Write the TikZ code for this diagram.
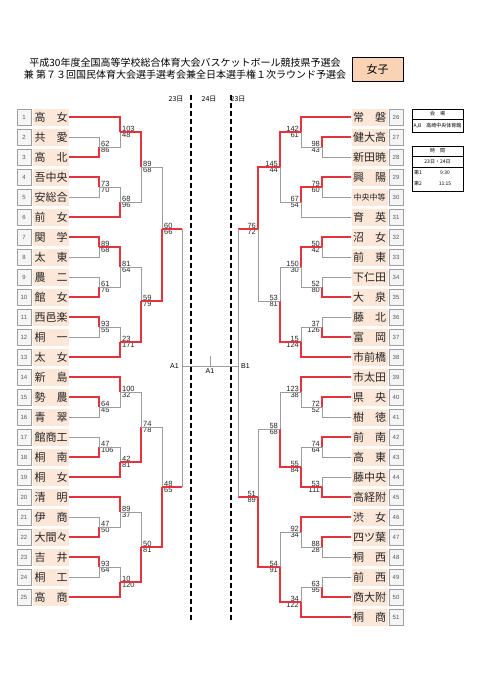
\documentclass[tikz,border=0pt]{standalone}
\usepackage{fontspec}
\setmainfont{Noto Sans CJK JP}
\newfontfamily\numfont{Liberation Sans}
\definecolor{wred}{HTML}{E5323C}
\definecolor{lgray}{HTML}{9C9C9C}
\definecolor{namebg}{HTML}{FCE7D9}
\definecolor{girlbg}{HTML}{FAD3B5}
\newcommand\two[2]{\makebox[33pt]{#1\hfill#2}}
\newcommand\teamL[3]{%
  \node[numbox] (N#1) at (24,#2) {#1};
  \node[namebox] (L#1) at (51,#2) {#3};}
\newcommand\teamR[3]{%
  \node[namebox] (R#1) at (369.5,#2) {#3};
  \node[numbox] (N#1) at (396,#2) {#1};}
% match on left side: name, X, Y, top src, bottom src, winner t/b, top score, bottom score
\newcommand\mL[8]{%
  \coordinate (#1) at (#2,#3);
  \if#6t\relax
    \draw[lose] (#5) -| (#1); \draw[win] (#4) -| (#1);
  \else
    \draw[lose] (#4) -| (#1); \draw[win] (#5) -| (#1);
  \fi
  \node[scorelbl,anchor=south west,xshift=1.5pt] (#1t) at (#1) {#7};
  \node[scorelbl,anchor=north west,xshift=1.5pt] (#1b) at (#1) {#8};}
\newcommand\mR[8]{%
  \coordinate (#1) at (#2,#3);
  \if#6t\relax
    \draw[lose] (#5) -| (#1); \draw[win] (#4) -| (#1);
  \else
    \draw[lose] (#4) -| (#1); \draw[win] (#5) -| (#1);
  \fi
  \node[scorelbl,anchor=south east,xshift=-1.5pt] (#1t) at (#1) {#7};
  \node[scorelbl,anchor=north east,xshift=-1.5pt] (#1b) at (#1) {#8};}
\begin{document}
\begin{tikzpicture}[x=1pt,y=-1pt,
  win/.style={draw=wred,line width=1.1pt},
  lose/.style={draw=lgray,line width=0.9pt},
  numbox/.style={draw=gray!75, fill=gray!8, line width=0.7pt, minimum width=14pt, minimum height=16pt, inner sep=0pt, font=\numfont\fontsize{6}{7}\selectfont, text=black!65},
  namebox/.style={fill=namebg, minimum width=36pt, minimum height=17pt, inner sep=0pt, font=\fontsize{11}{12}\selectfont, text=black!85},
  scorelbl/.style={inner sep=0.4pt, font=\numfont\fontsize{7.5}{8}\selectfont, text=black!85},
  titletxt/.style={inner sep=0pt, font=\fontsize{10}{12}\selectfont},
  datelbl/.style={inner sep=0pt, font=\fontsize{7}{8}\selectfont},
  alabel/.style={inner sep=0pt, font=\numfont\fontsize{7}{8}\selectfont},
  infotxt/.style={inner sep=0pt, font=\fontsize{5}{6}\selectfont},
  dashline/.style={line width=1.5pt, dash pattern=on 5pt off 3pt}]
\useasboundingbox[fill=white] (0,0) rectangle (481,680);
% title
\node[titletxt] (title1) at (185,63) {平成30年度全国高等学校総合体育大会バスケットボール競技県予選会};
\node[titletxt] (title2) at (185,75) {兼 第７３回国民体育大会選手選考会兼全日本選手権１次ラウンド予選会};
\node[draw=black, line width=0.8pt, fill=girlbg, minimum width=51pt, minimum height=24pt, inner sep=0pt, font=\fontsize{11}{12}\selectfont] (girls) at (377.5,69) {女子};
% info boxes
\node[draw=black, line width=0.7pt, minimum width=51pt, minimum height=23pt, inner sep=0pt, anchor=north west] (venue) at (412,109) {};
\draw[line width=0.5pt] ([yshift=-10.5pt]venue.north west) -- ([yshift=-10.5pt]venue.north east);
\node[infotxt] (venueh) at (437.5,114) {会　場};
\node[infotxt] (venuet) at (437.5,126) {A,B　高崎中央体育館};
\node[draw=black, line width=0.7pt, minimum width=51pt, minimum height=45pt, inner sep=0pt, anchor=north west] (timebox) at (412,146) {};
\draw[line width=0.5pt] ([yshift=-10pt]timebox.north west) -- ([yshift=-10pt]timebox.north east);
\draw[line width=0.5pt] ([yshift=-21pt]timebox.north west) -- ([yshift=-21pt]timebox.north east);
\node[infotxt] (timeh) at (437.5,151) {時　間};
\node[infotxt] (timed) at (437.5,161.5) {23日・24日};
\node[infotxt] (t1a) at (418,173) {第1};
\node[infotxt] (t1b) at (445,173) {9:30};
\node[infotxt] (t2a) at (418,184) {第2};
\node[infotxt] (t2b) at (445,184) {11:15};
% dates and dashed day separators
\node[datelbl] (d1) at (176,99) {23日};
\node[datelbl] (d2) at (209,99) {24日};
\node[datelbl] (d3) at (238,99) {23日};
\coordinate (s1t) at (191,95); \coordinate (s1b) at (191,622);
\coordinate (s2t) at (231,95); \coordinate (s2b) at (231,622);
\draw[dashline] (s1t) -- (s1b);
\draw[dashline] (s2t) -- (s2b);
% teams left
\teamL{1}{117}{\two{高}{女}}
\teamL{2}{137}{\two{共}{愛}}
\teamL{3}{157}{\two{高}{北}}
\teamL{4}{177}{吾中央}
\teamL{5}{197}{安総合}
\teamL{6}{217}{\two{前}{女}}
\teamL{7}{237}{\two{関}{学}}
\teamL{8}{257}{\two{太}{東}}
\teamL{9}{277}{\two{農}{二}}
\teamL{10}{297}{\two{館}{女}}
\teamL{11}{317}{西邑楽}
\teamL{12}{337}{\two{桐}{一}}
\teamL{13}{357}{\two{太}{女}}
\teamL{14}{377}{\two{新}{島}}
\teamL{15}{397}{\two{勢}{農}}
\teamL{16}{417}{\two{青}{翠}}
\teamL{17}{437}{館商工}
\teamL{18}{457}{\two{桐}{南}}
\teamL{19}{477}{\two{桐}{女}}
\teamL{20}{497}{\two{清}{明}}
\teamL{21}{517}{\two{伊}{商}}
\teamL{22}{537}{大間々}
\teamL{23}{557}{\two{吉}{井}}
\teamL{24}{577}{\two{桐}{工}}
\teamL{25}{597}{\two{高}{商}}
% teams right
\teamR{26}{117}{\two{常}{磐}}
\teamR{27}{137}{健大高}
\teamR{28}{157}{新田暁}
\teamR{29}{177}{\two{興}{陽}}
\teamR{30}{197}{{\fontsize{8}{9}\selectfont 中央中等}}
\teamR{31}{217}{\two{育}{英}}
\teamR{32}{237}{\two{沼}{女}}
\teamR{33}{257}{\two{前}{東}}
\teamR{34}{277}{下仁田}
\teamR{35}{297}{\two{大}{泉}}
\teamR{36}{317}{\two{藤}{北}}
\teamR{37}{337}{\two{富}{岡}}
\teamR{38}{357}{市前橋}
\teamR{39}{377}{市太田}
\teamR{40}{397}{\two{県}{央}}
\teamR{41}{417}{\two{樹}{徳}}
\teamR{42}{437}{\two{前}{南}}
\teamR{43}{457}{\two{高}{東}}
\teamR{44}{477}{藤中央}
\teamR{45}{497}{高経附}
\teamR{46}{517}{\two{渋}{女}}
\teamR{47}{537}{四ツ葉}
\teamR{48}{557}{\two{桐}{西}}
\teamR{49}{577}{\two{前}{西}}
\teamR{50}{597}{商大附}
\teamR{51}{617}{\two{桐}{商}}
% left bracket
\mL{a23}{99}{147}{L2.east}{L3.east}{b}{62}{86}
\mL{a13}{120}{132}{L1.east}{a23}{t}{103}{48}
\mL{a45}{99}{187}{L4.east}{L5.east}{t}{73}{70}
\mL{a46}{120}{202}{a45}{L6.east}{b}{68}{96}
\mL{a16}{141}{167}{a13}{a46}{t}{89}{68}
\mL{a78}{99}{247}{L7.east}{L8.east}{t}{89}{68}
\mL{a910}{99}{287}{L9.east}{L10.east}{b}{61}{76}
\mL{a710}{120}{267}{a78}{a910}{t}{81}{64}
\mL{a1112}{99}{327}{L11.east}{L12.east}{t}{93}{55}
\mL{a1113}{120}{342}{a1112}{L13.east}{b}{23}{171}
\mL{a713}{141}{301}{a710}{a1113}{b}{59}{79}
\mL{aT}{162}{229}{a16}{a713}{b}{60}{66}
\mL{a1516}{99}{407}{L15.east}{L16.east}{t}{64}{45}
\mL{a1416}{120}{392}{L14.east}{a1516}{t}{100}{32}
\mL{a1718}{99}{447}{L17.east}{L18.east}{b}{47}{106}
\mL{a1719}{120}{462}{a1718}{L19.east}{b}{42}{81}
\mL{a1419}{141}{427}{a1416}{a1719}{b}{74}{78}
\mL{a2122}{99}{527}{L21.east}{L22.east}{b}{47}{50}
\mL{a2022}{120}{512}{L20.east}{a2122}{t}{89}{37}
\mL{a2324}{99}{567}{L23.east}{L24.east}{t}{93}{64}
\mL{a2325}{120}{582}{a2324}{L25.east}{b}{10}{120}
\mL{a2025}{141}{547}{a2022}{a2325}{b}{50}{81}
\mL{aB}{162}{487}{a1419}{a2025}{b}{48}{65}
% right bracket
\mR{b2728}{322}{147}{R27.west}{R28.west}{t}{98}{43}
\mR{b2628}{301}{132}{R26.west}{b2728}{t}{142}{61}
\mR{b2930}{322}{187}{R29.west}{R30.west}{t}{79}{60}
\mR{b2931}{301}{202}{b2930}{R31.west}{t}{67}{54}
\mR{b2631}{280}{167}{b2628}{b2931}{t}{145}{44}
\mR{b3233}{322}{247}{R32.west}{R33.west}{t}{50}{42}
\mR{b3435}{322}{287}{R34.west}{R35.west}{b}{52}{80}
\mR{b3235}{301}{267}{b3233}{b3435}{t}{150}{30}
\mR{b3637}{322}{327}{R36.west}{R37.west}{b}{37}{126}
\mR{b3638}{301}{342}{b3637}{R38.west}{b}{15}{124}
\mR{b3238}{280}{301}{b3235}{b3638}{b}{53}{81}
\mR{bT}{258}{229}{b2631}{b3238}{t}{76}{72}
\mR{b4041}{322}{407}{R40.west}{R41.west}{t}{72}{52}
\mR{b3941}{301}{392}{R39.west}{b4041}{t}{123}{38}
\mR{b4243}{322}{447}{R42.west}{R43.west}{t}{74}{64}
\mR{b4445}{322}{487}{R44.west}{R45.west}{b}{53}{111}
\mR{b4245}{301}{467}{b4243}{b4445}{b}{55}{84}
\mR{b3945}{280}{429}{b3941}{b4245}{b}{58}{68}
\mR{b4748}{322}{547}{R47.west}{R48.west}{t}{88}{28}
\mR{b4648}{301}{532}{R46.west}{b4748}{t}{92}{34}
\mR{b4950}{322}{587}{R49.west}{R50.west}{b}{63}{95}
\mR{b4951}{301}{602}{b4950}{R51.west}{b}{34}{122}
\mR{b4651}{280}{567}{b4648}{b4951}{b}{54}{91}
\mR{bB}{258}{497}{b3945}{b4651}{b}{51}{89}
% final
\coordinate (A1L) at (182,366);
\coordinate (B1R) at (238,366);
\coordinate (A1T) at (210,356);
\draw[win] (aT) -- (aT -| A1L);
\draw[lose] (aT -| A1L) -- (A1L);
\draw[win] (aB) -- (aB -| A1L);
\draw[lose] (aB -| A1L) -- (A1L);
\draw[win] (bT) -- (bT -| B1R);
\draw[lose] (bT -| B1R) -- (B1R);
\draw[win] (bB) -- (bB -| B1R);
\draw[lose] (bB -| B1R) -- (B1R);
\draw[lose,line width=0.7pt] (A1L) -- (B1R);
\draw[lose,line width=0.6pt] (A1T) -- (A1T |- A1L);
\node[alabel,anchor=east] (lblA) at (179,366) {A1};
\node[alabel,anchor=north] (lblC) at (210,368) {A1};
\node[alabel,anchor=west] (lblB) at (241,366) {B1};
\end{tikzpicture}
\end{document}
